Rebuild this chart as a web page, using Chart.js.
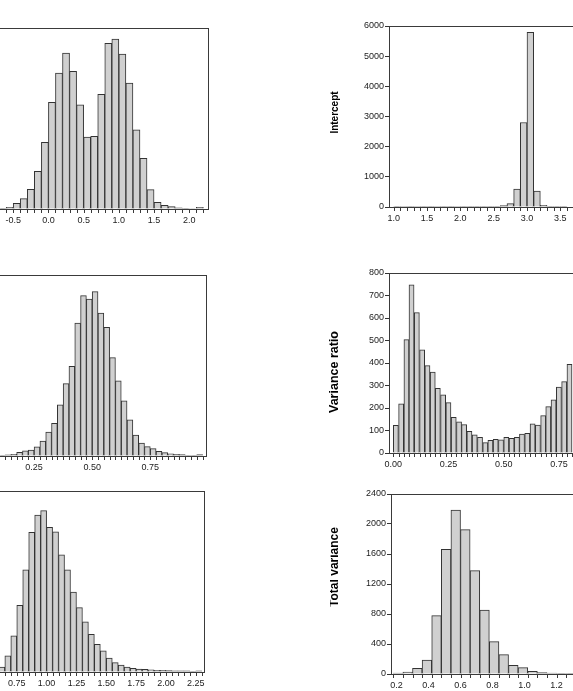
<!DOCTYPE html>
<html>
<head>
<meta charset="utf-8">
<script src="https://cdn.jsdelivr.net/npm/chart.js@4.4.1/dist/chart.umd.min.js"></script>
<style>
  html, body { margin: 0; padding: 0; background: #fff; }
  #wrap { position: relative; width: 573px; height: 691px; overflow: hidden; }
  #wrap canvas { position: absolute; }
</style>
</head>
<body>
<div id="wrap">
  <canvas id="slope"></canvas>
  <canvas id="intercept"></canvas>
  <canvas id="ratioA"></canvas>
  <canvas id="ratio"></canvas>
  <canvas id="scaleB"></canvas>
  <canvas id="total"></canvas>
</div>
<script>
// --- data (bin centres and counts) ---

// top left (y axis outside the picture)
const p1Bins = [-0.65, -0.55, -0.45, -0.35, -0.25, -0.15, -0.05, 0.05, 0.15, 0.25, 0.35, 0.45, 0.55, 0.65, 0.75, 0.85, 0.95, 1.05, 1.15, 1.25, 1.35, 1.45, 1.55, 1.65, 1.75, 1.85, 1.95, 2.05, 2.15];
const p1Counts = [4, 9, 31, 57, 109, 208, 369, 589, 751, 862, 760, 576, 397, 402, 633, 915, 939, 856, 696, 437, 280, 107, 37, 20, 13, 7, 4, 3, 9];
const p1Labels = [-1.0, -0.5, 0.0, 0.5, 1.0, 1.5, 2.0];

// Intercept
const interceptBins = [1.05, 1.15, 1.25, 1.35, 1.45, 1.55, 1.65, 1.75, 1.85, 1.95, 2.05, 2.15, 2.25, 2.35, 2.45, 2.55, 2.65, 2.75, 2.85, 2.95, 3.05, 3.15, 3.25, 3.35, 3.45, 3.55];
const interceptCounts = [3, 2, 3, 2, 3, 3, 2, 3, 3, 2, 3, 4, 3, 4, 5, 8, 44, 111, 598, 2800, 5790, 531, 55, 8, 4, 3];
const interceptLabels = [1.0, 1.5, 2.0, 2.5, 3.0, 3.5, 4.0];

// middle left
const p3Bins = [0.1125, 0.1375, 0.1625, 0.1875, 0.2125, 0.2375, 0.2625, 0.2875, 0.3125, 0.3375, 0.3625, 0.3875, 0.4125, 0.4375, 0.4625, 0.4875, 0.5125, 0.5375, 0.5625, 0.5875, 0.6125, 0.6375, 0.6625, 0.6875, 0.7125, 0.7375, 0.7625, 0.7875, 0.8125, 0.8375, 0.8625, 0.8875, 0.9125, 0.9375, 0.9625];
const p3Counts = [4, 7, 11, 24, 35, 40, 60, 99, 159, 217, 340, 480, 594, 882, 1063, 1041, 1090, 948, 853, 652, 499, 365, 239, 139, 86, 62, 49, 31, 22, 15, 11, 9, 4, 4, 9];
const p3Labels = [0.0, 0.25, 0.5, 0.75];

// Variance ratio (bins a bit narrower than 0.025)
const ratioBins = [0.012, 0.036, 0.060, 0.083, 0.107, 0.131, 0.155, 0.179, 0.202, 0.226, 0.250, 0.274, 0.298, 0.321, 0.345, 0.369, 0.393, 0.417, 0.440, 0.464, 0.488, 0.512, 0.536, 0.560, 0.583, 0.607, 0.631, 0.655, 0.679, 0.702, 0.726, 0.750, 0.774, 0.798];
const ratioCounts = [123, 219, 504, 747, 624, 458, 388, 360, 287, 258, 224, 159, 139, 126, 96, 81, 70, 46, 56, 61, 58, 70, 65, 70, 84, 87, 130, 124, 166, 206, 236, 293, 317, 394];
const ratioLabels = [0.0, 0.25, 0.5, 0.75, 1.0];

// bottom left
const p5Bins = [0.625, 0.675, 0.725, 0.775, 0.825, 0.875, 0.925, 0.975, 1.025, 1.075, 1.125, 1.175, 1.225, 1.275, 1.325, 1.375, 1.425, 1.475, 1.525, 1.575, 1.625, 1.675, 1.725, 1.775, 1.825, 1.875, 1.925, 1.975, 2.025, 2.075, 2.125, 2.175, 2.225, 2.275];
const p5Counts = [33, 108, 239, 442, 678, 926, 1041, 1070, 959, 930, 776, 678, 530, 427, 332, 250, 183, 141, 93, 62, 46, 33, 24, 20, 18, 15, 11, 11, 9, 7, 7, 7, 4, 7];
const p5Labels = [0.5, 0.75, 1.0, 1.25, 1.5, 1.75, 2.0, 2.25];

// Total variance
const totalBins = [0.21, 0.27, 0.33, 0.39, 0.45, 0.51, 0.57, 0.63, 0.69, 0.75, 0.81, 0.87, 0.93, 0.99, 1.05, 1.11, 1.17, 1.23, 1.29];
const totalCounts = [13, 27, 76, 187, 778, 1662, 2187, 1924, 1378, 853, 431, 258, 116, 84, 36, 18, 13, 9, 9];
const totalLabels = [0.2, 0.4, 0.6, 0.8, 1.0, 1.2, 1.4];

const FONT = 'Liberation Sans, Arial, sans-serif';

// box round the plot area, tick marks on the bin edges, rotated side title
const histPlugin = {
  id: 'hist',
  afterDatasetsDraw(chart, args, opts) {
    const a = chart.chartArea;
    const ctx = chart.ctx;
    const x = chart.scales.x;
    ctx.save();
    ctx.strokeStyle = '#3a3a3a';
    ctx.lineWidth = 1;
    ctx.strokeRect(Math.round(a.left) + 0.5, Math.round(a.top) + 0.5,
      Math.round(a.right - a.left) - 1, Math.round(a.bottom - a.top));
    ctx.beginPath();
    (opts.edges || []).forEach(e => {
      if (e < x.min || e > x.max) return;
      const px = Math.round(x.getPixelForValue(e)) + 0.5;
      ctx.moveTo(px, Math.round(a.bottom));
      ctx.lineTo(px, Math.round(a.bottom) + 4);
    });
    ctx.stroke();
    if (opts.title) {
      ctx.fillStyle = '#000';
      ctx.font = 'bold ' + opts.size + 'px ' + FONT;
      ctx.textAlign = 'center';
      ctx.textBaseline = 'middle';
      ctx.translate(a.left - opts.dx, (a.top + a.bottom) / 2 + opts.dy);
      ctx.rotate(-Math.PI / 2);
      ctx.fillText(opts.title, 0, 0);
    }
    ctx.restore();
  }
};

const near = (list, v) => list.some(x => Math.abs(x - v) < 1e-6);

function histogram(id, o) {
  const yW = 61, padT = 8, padR = 8, xH = 26;
  const cv = document.getElementById(id);
  cv.width = yW + o.frame.w + padR;
  cv.height = padT + o.frame.h + xH;
  cv.style.left = (o.frame.x - yW) + 'px';
  cv.style.top = (o.frame.y - padT) + 'px';

  const half = o.bin / 2;
  const edges = o.bins.map(c => c - half).concat([o.bins[o.bins.length - 1] + half]);

  return new Chart(cv, {
    type: 'bar',
    data: {
      datasets: [{
        data: o.bins.map((b, i) => ({ x: b, y: o.counts[i] })),
        backgroundColor: '#d0d0d0',
        borderColor: '#333',
        borderWidth: 1,
        barPercentage: 1,
        categoryPercentage: 1
      }]
    },
    options: {
      responsive: false,
      animation: false,
      devicePixelRatio: 1,
      layout: { autoPadding: false, padding: { top: padT, right: padR, left: 0, bottom: 0 } },
      plugins: {
        legend: { display: false },
        tooltip: { enabled: false },
        hist: { edges: edges, title: o.title, size: o.titleSize, dx: o.titleDx || 54, dy: o.titleDy || 0 }
      },
      scales: {
        x: {
          type: 'linear',
          min: o.xmin,
          max: o.xmax,
          offset: false,
          afterBuildTicks: s => { s.ticks = o.labels.filter(v => v >= o.xmin && v <= o.xmax).map(v => ({ value: v })); },
          afterFit: s => { s.height = xH; },
          border: { display: false },
          grid: { offset: false, drawOnChartArea: false, drawTicks: false },
          ticks: {
            autoSkip: false,
            maxRotation: 0,
            padding: 6,
            color: '#222',
            font: { family: FONT, size: 9 },
            callback: v => v.toFixed(o.dec)
          }
        },
        y: {
          min: 0,
          max: o.ymax,
          afterFit: s => { s.width = yW; },
          border: { display: false },
          grid: { drawOnChartArea: false, tickLength: 4, color: '#333' },
          ticks: {
            stepSize: o.ystep,
            padding: 1,
            color: '#222',
            font: { family: FONT, size: 9 },
            callback: v => String(v)
          }
        }
      }
    },
    plugins: [histPlugin]
  });
}

histogram('slope', { frame: { x: -22, y: 28, w: 231, h: 181 }, bins: p1Bins, counts: p1Counts, bin: 0.1,
  labels: p1Labels, dec: 1, xmin: -1.0, xmax: 2.28, ymax: 1000, ystep: 200 });
histogram('intercept', { frame: { x: 389, y: 26, w: 232, h: 181 }, bins: interceptBins, counts: interceptCounts, bin: 0.1,
  labels: interceptLabels, dec: 1, xmin: 0.93, xmax: 4.41, ymax: 6000, ystep: 1000,
  title: 'Intercept', titleSize: 10, titleDy: -4 });
histogram('ratioA', { frame: { x: -24, y: 275, w: 231, h: 181 }, bins: p3Bins, counts: p3Counts, bin: 0.025,
  labels: p3Labels, dec: 2, xmin: 0, xmax: 0.994, ymax: 1200, ystep: 200 });
histogram('ratio', { frame: { x: 389, y: 273, w: 232, h: 180 }, bins: ratioBins, counts: ratioCounts, bin: 0.0238,
  labels: ratioLabels, dec: 2, xmin: -0.019, xmax: 1.016, ymax: 800, ystep: 100,
  title: 'Variance ratio', titleSize: 12.5, titleDy: 9 });
histogram('scaleB', { frame: { x: -25, y: 491, w: 230, h: 181 }, bins: p5Bins, counts: p5Counts, bin: 0.05,
  labels: p5Labels, dec: 2, xmin: 0.4, xmax: 2.327, ymax: 1200, ystep: 200 });
histogram('total', { frame: { x: 391, y: 494, w: 231, h: 180 }, bins: totalBins, counts: totalCounts, bin: 0.06,
  labels: totalLabels, dec: 1, xmin: 0.1656, xmax: 1.609, ymax: 2400, ystep: 400,
  title: 'Total variance', titleSize: 12, titleDx: 56, titleDy: -17 });
</script>
</body>
</html>
